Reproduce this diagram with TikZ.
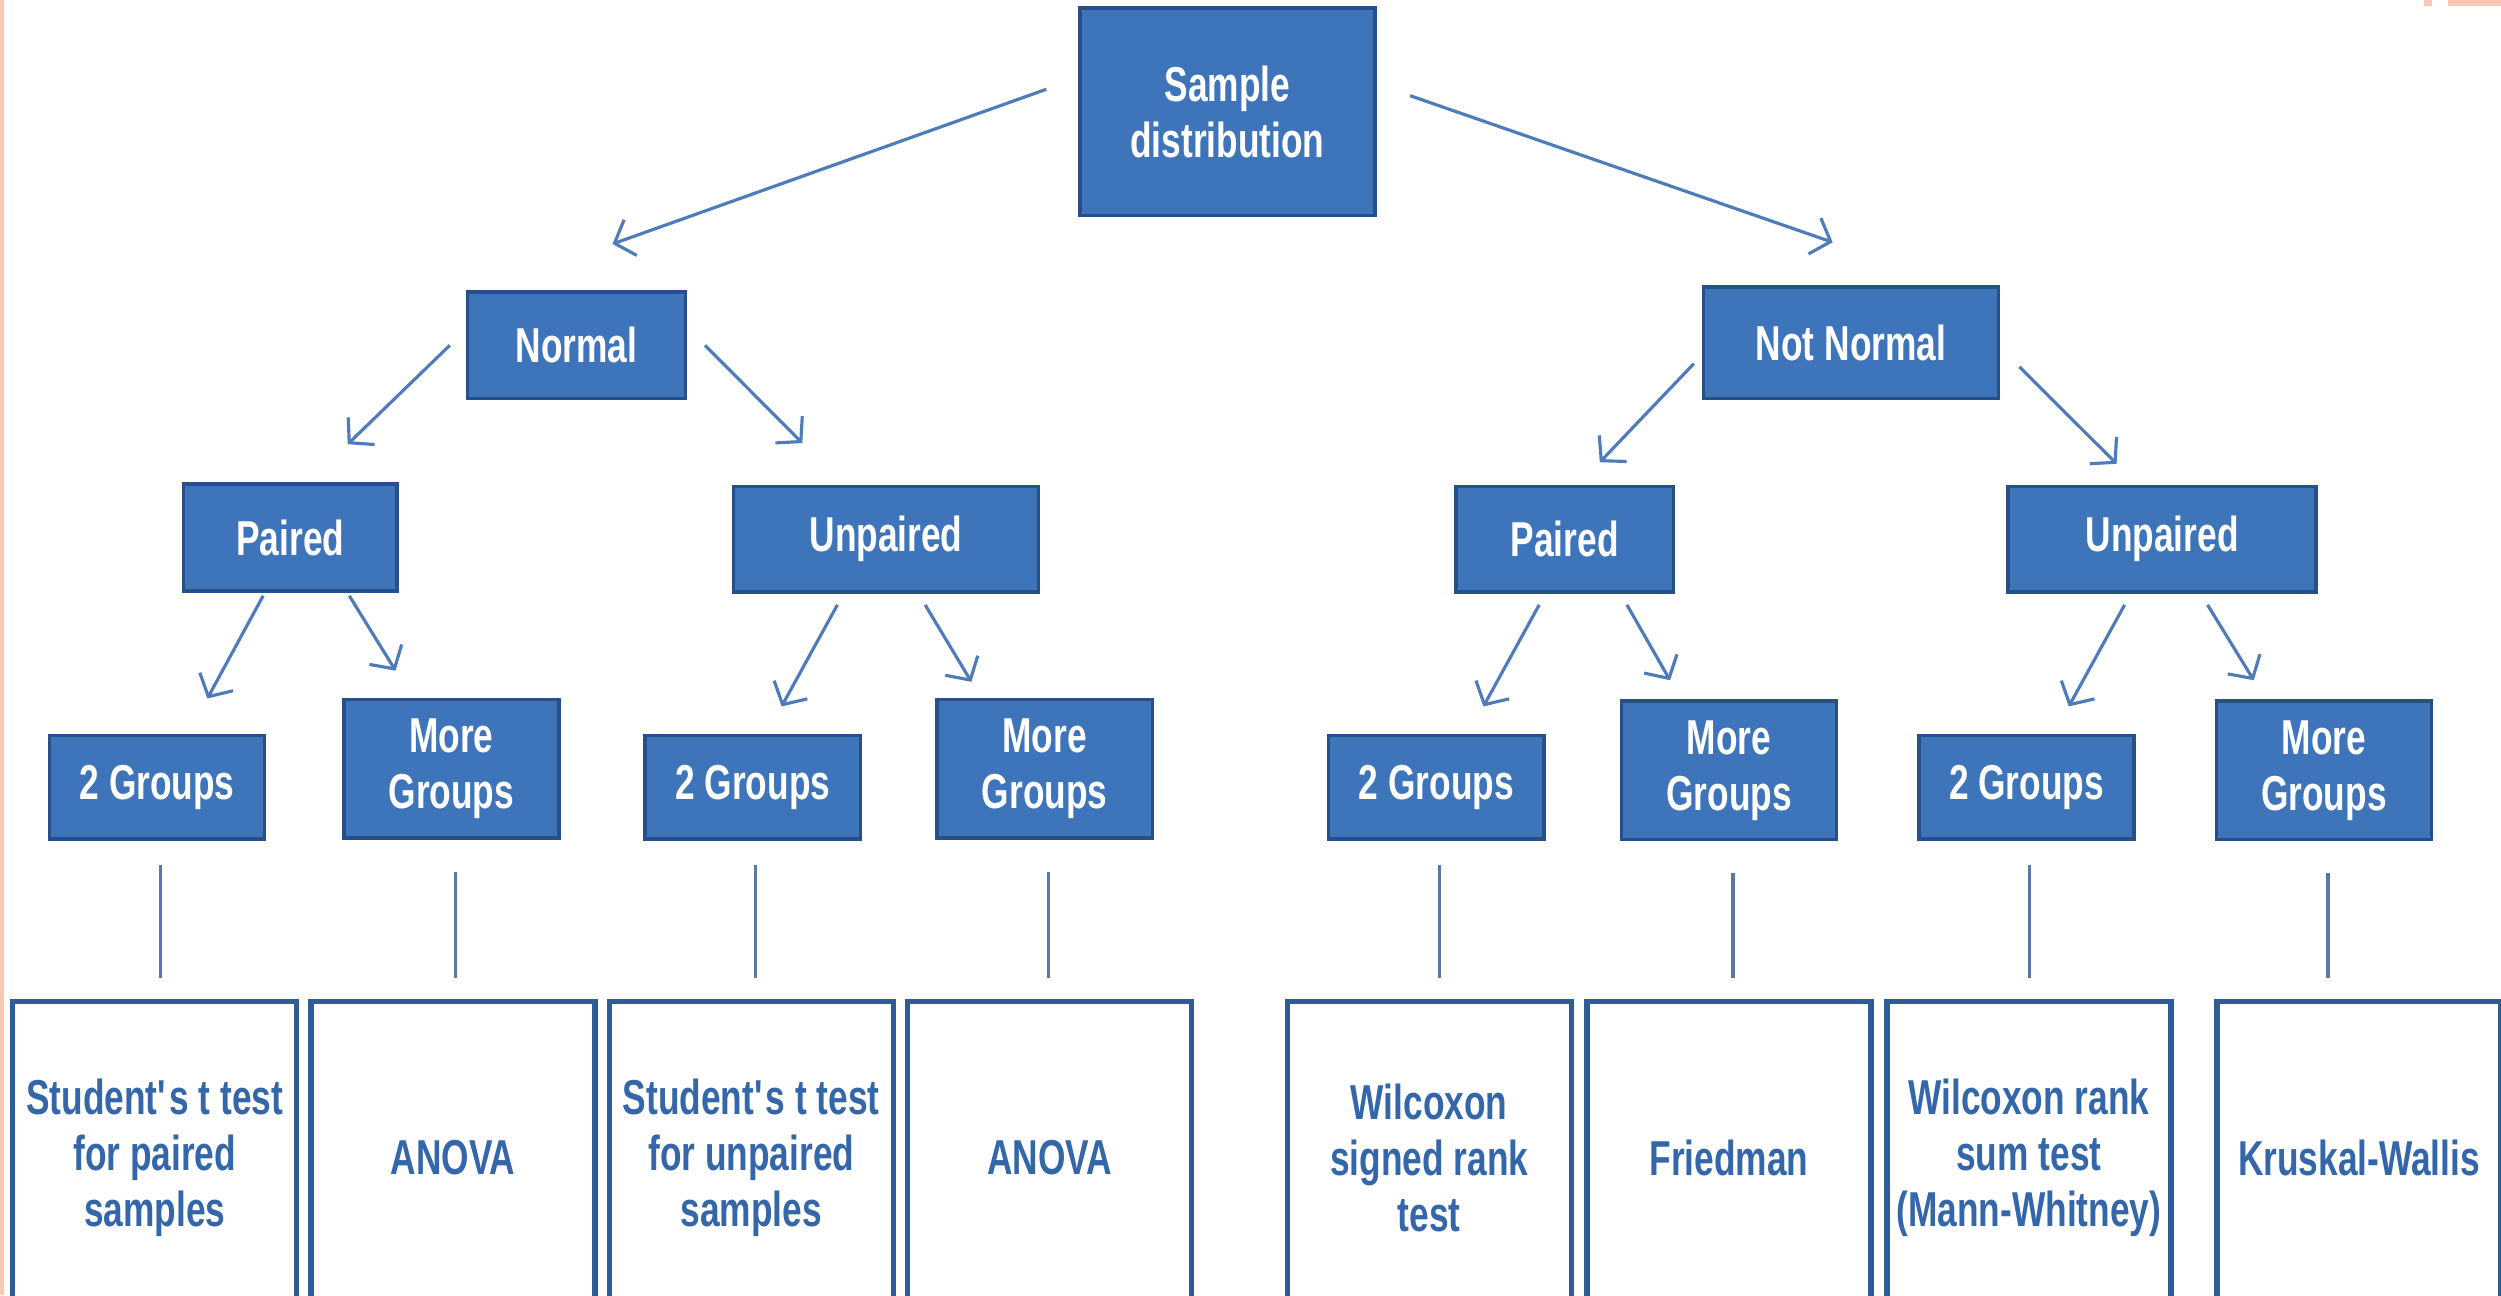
\documentclass[tikz,border=0pt]{standalone}
\usepackage{fontspec}
\setmainfont{Liberation Sans}[FakeStretch=0.72]
\usepackage{xcolor}
\usetikzlibrary{arrows.meta}

\definecolor{boxblue}{RGB}{62,117,186}
\definecolor{boxedge}{RGB}{40,80,136}
\definecolor{resedge}{RGB}{46,92,153}
\definecolor{restext}{RGB}{52,102,170}
\definecolor{arrowblue}{RGB}{78,124,186}
\definecolor{linkblue}{RGB}{90,120,170}
\definecolor{salmon}{RGB}{251,200,180}

\begin{document}
\begin{tikzpicture}[x=0.016cm,y=-0.016cm,>={Straight Barb[length=1.7mm,width=3.8mm]},
  blk/.style={draw=boxedge,fill=boxblue,line width=1pt,text=white,align=center,
    font=\fontsize{14}{16}\selectfont\bfseries,inner sep=2pt},
  grp/.style={blk,minimum width=2.16cm,minimum height=1.04cm},
  moregrp/.style={blk,minimum width=2.16cm,minimum height=1.39cm},
  res/.style={draw=resedge,fill=white,line width=1.5pt,text=restext,align=center,
    font=\fontsize{14}{16}\selectfont\bfseries,minimum width=2.85cm,minimum height=3.14cm,inner sep=1pt},
  arr/.style={->,draw=arrowblue,line width=0.9pt},
  link/.style={draw=linkblue,line width=0.9pt}]
  \fill[white] (0,0) rectangle (1568,812);
  \useasboundingbox (0,0) rectangle (1568,812);
  \fill[salmon] (0,0) rectangle (2.5,812);
  \fill[salmon] (1535,0) rectangle (1568,4);
  \fill[salmon] (1520,0) rectangle (1525,4);

  % top levels
  \node[blk,minimum width=2.96cm,minimum height=2.08cm] (sd) at (769.5,70) {Sample\\distribution};
  \node[blk,minimum width=2.19cm,minimum height=1.07cm] (normal) at (361.5,216.5) {Normal};
  \node[blk,minimum width=2.96cm,minimum height=1.12cm] (notnormal) at (1160.5,215) {Not Normal};
  \node[blk,minimum width=2.14cm,minimum height=1.07cm] (pairedL) at (182,337) {Paired};
  \node[blk,minimum width=3.06cm,minimum height=1.06cm] (unpairedL) at (555.5,338) {Unpaired};
  \node[blk,minimum width=2.18cm,minimum height=1.06cm] (pairedR) at (981,338) {Paired};
  \node[blk,minimum width=3.09cm,minimum height=1.06cm] (unpairedR) at (1355.5,338) {Unpaired};

  % groups
  \node[grp] (g2a) at (98.5,493.5) {2 Groups};
  \node[moregrp] (mga) at (283,482) {More\\Groups};
  \node[grp] (g2b) at (472,493.5) {2 Groups};
  \node[moregrp] (mgb) at (655,482) {More\\Groups};
  \node[grp] (g2c) at (900.5,493.5) {2 Groups};
  \node[moregrp] (mgc) at (1084,483) {More\\Groups};
  \node[grp] (g2d) at (1270.5,493.5) {2 Groups};
  \node[moregrp] (mgd) at (1457,483) {More\\Groups};

  % tests
  \node[res] (resa) at (97,726) {Student\textquotesingle s t test\\for paired\\samples};
  \node[res] (resb) at (284,726) {ANOVA};
  \node[res] (resc) at (471,726) {Student\textquotesingle s t test\\for unpaired\\samples};
  \node[res] (resd) at (658,726) {ANOVA};
  \node[res] (rese) at (896,726) {Wilcoxon\\signed rank\\test};
  \node[res] (resf) at (1084,726) {Friedman};
  \node[res] (resg) at (1272,726) {Wilcoxon rank\\sum test\\(Mann-Whitney)};
  \node[res] (resh) at (1479,726) {Kruskal-Wallis};

  % arrows
  \draw[arr] ([shift={(-20,-14)}]sd.west) -- ([shift={(22.5,-29)}]normal.north);
  \draw[arr] ([shift={(21,-10)}]sd.east) -- ([shift={(-11.5,-27)}]notnormal.north);
  \draw[arr] ([shift={(-10,0)}]normal.west) -- ([shift={(36,-24)}]pairedL.north);
  \draw[arr] ([shift={(11,0)}]normal.east) -- ([shift={(-52.5,-26)}]unpairedL.north);
  \draw[arr] ([shift={(-5,13)}]notnormal.west) -- ([shift={(22,-14)}]pairedR.north);
  \draw[arr] ([shift={(12,15)}]notnormal.east) -- ([shift={(-28.5,-13)}]unpairedR.north);
  \draw[arr] ([shift={(-17,2)}]pairedL.south) -- ([shift={(31.5,-22)}]g2a.north);
  \draw[arr] ([shift={(37,2)}]pairedL.south) -- ([shift={(-35,-17)}]mga.north);
  \draw[arr] ([shift={(-30.5,7)}]unpairedL.south) -- ([shift={(18,-17)}]g2b.north);
  \draw[arr] ([shift={(24.5,7)}]unpairedL.south) -- ([shift={(-46,-10)}]mgb.north);
  \draw[arr] ([shift={(-16,7)}]pairedR.south) -- ([shift={(29.5,-17)}]g2c.north);
  \draw[arr] ([shift={(39,7)}]pairedR.south) -- ([shift={(-37,-12)}]mgc.north);
  \draw[arr] ([shift={(-23.5,7)}]unpairedR.south) -- ([shift={(26.5,-17)}]g2d.north);
  \draw[arr] ([shift={(28.5,7)}]unpairedR.south) -- ([shift={(-44,-12)}]mgd.north);

  % plain links
  \foreach \g/\r in {g2a/resa,g2b/resc,g2c/rese,g2d/resg}
    \draw[link,shorten <=0.24cm,shorten >=0.21cm] ([xshift=0.03cm]\g.south) -- ([xshift=0.03cm]\g.south |- \r.north);
  \foreach \g/\r in {mga/resb,mgb/resd,mgc/resf,mgd/resh}
    \draw[link,shorten <=0.32cm,shorten >=0.21cm] ([xshift=0.04cm]\g.south) -- ([xshift=0.04cm]\g.south |- \r.north);
\end{tikzpicture}
\end{document}
